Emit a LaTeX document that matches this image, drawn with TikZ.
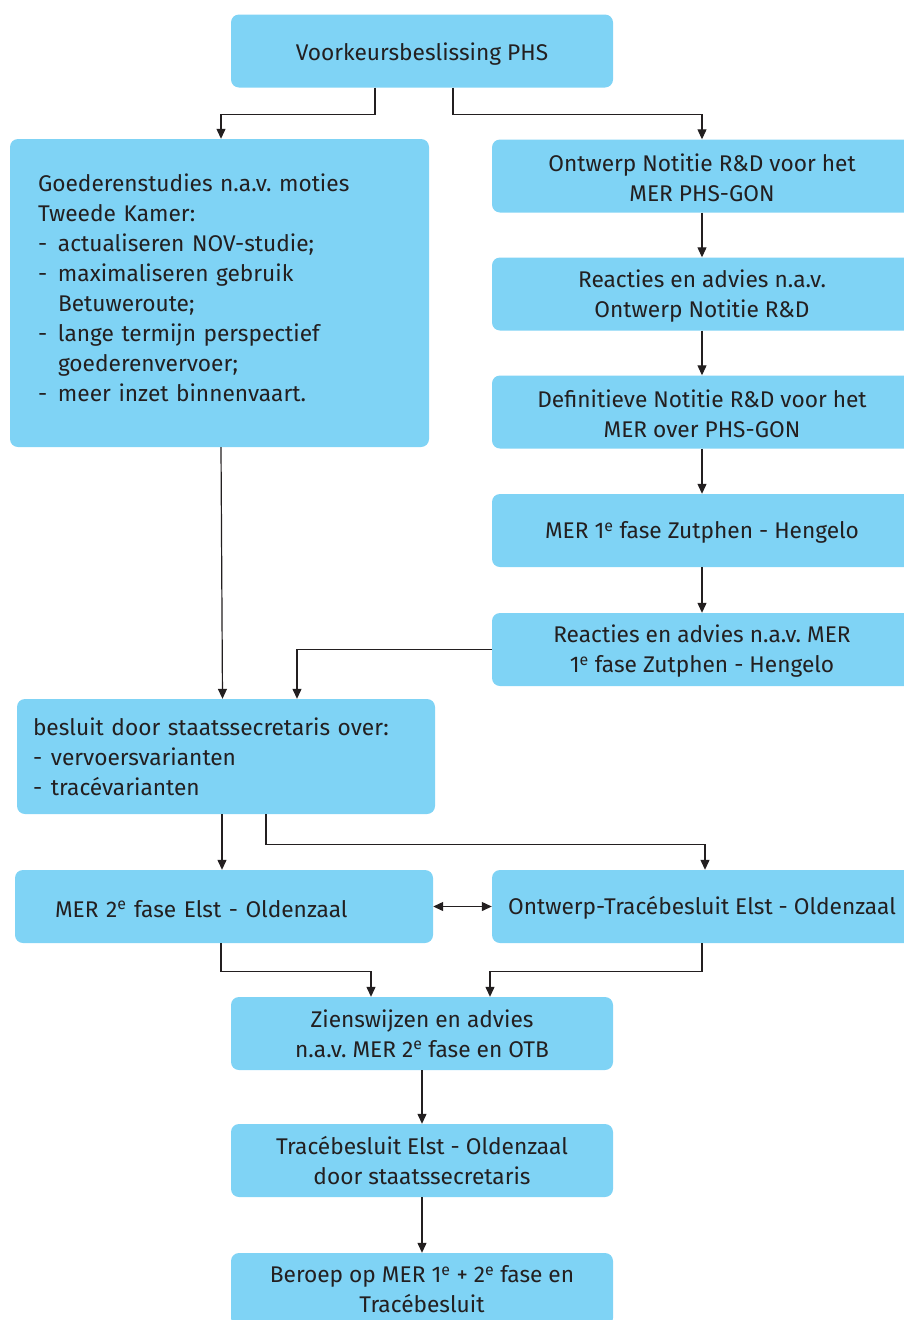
\documentclass[tikz,border=0pt]{standalone}
\usepackage{fontspec}
\setmainfont{Fira Sans}
\usetikzlibrary{arrows.meta}
\definecolor{boxblue}{RGB}{127,211,245}
\definecolor{linegrey}{RGB}{35,31,32}
\frenchspacing
\begin{document}
\begin{tikzpicture}[x=1pt,y=-1pt,font=\fontsize{22.7}{30}\selectfont,text=linegrey]
     \tikzstyle{boxnode}=[rectangle, rounded corners=8pt, fill=boxblue, inner sep=0pt,
       minimum width=382pt, minimum height=73pt, align=center]
     \tikzstyle{rightnode}=[boxnode, minimum width=420pt, text height=51pt]
     \tikzstyle{leftnode}=[boxnode, minimum width=418pt, align=left]
     \tikzstyle{oneline}=[text height=21.5pt]
     \tikzstyle{arrowline}=[draw=linegrey, line width=1.2pt, -{Triangle[width=9pt,length=10pt]}]
     \clip (0,0) rectangle (904,1320);
     \useasboundingbox (0,0) rectangle (904,1320);
     % top
     \node[boxnode, text height=23pt] (vkb) at (422,51) {Voorkeursbeslissing PHS};
     % left column
     \node[leftnode, minimum width=419pt, minimum height=308pt, text width=363pt, text depth=220pt] (goed) at (219.5,293)
       {Goederenstudies n.a.v. moties\\
        Tweede Kamer:\\
        \makebox[20pt][l]{-}actualiseren NOV-studie;\\
        \makebox[20pt][l]{-}maximaliseren gebruik\\
        \hspace*{20pt}Betuweroute;\\
        \makebox[20pt][l]{-}lange termijn perspectief\\
        \hspace*{20pt}goederenvervoer;\\
        \makebox[20pt][l]{-}meer inzet binnenvaart.};
     % right column
     \node[rightnode] (notitie) at (702,176) {Ontwerp Notitie R\&D voor het\\MER PHS-GON};
     \node[rightnode] (reactie) at (702,294) {Reacties en advies n.a.v.\\Ontwerp Notitie R\&D};
     \node[rightnode] (definitief) at (702,412) {Definitieve Notitie R\&D voor het\\MER over PHS-GON};
     \node[rightnode, oneline] (merfase1) at (702,530.5) {MER 1\textsuperscript{e} fase Zutphen - Hengelo};
     \node[rightnode] (advies1) at (702,649.5) {Reacties en advies n.a.v. MER\\1\textsuperscript{e} fase Zutphen - Hengelo};
     % besluit
     \node[leftnode, minimum height=115pt, text width=386pt] (besluit) at (226,756.5)
       {besluit door staatssecretaris over:\\
        \makebox[18pt][l]{-}vervoersvarianten\\
        \makebox[18pt][l]{-}tracévarianten};
     \node[leftnode, oneline, text width=338pt] (merfase2) at (224,906.5) {MER 2\textsuperscript{e} fase Elst - Oldenzaal};
     \node[rightnode, oneline] (otb) at (702,906.5) {Ontwerp-Tracébesluit Elst - Oldenzaal};
     % bottom
     \node[boxnode] (zienswijze) at (422,1033.5) {Zienswijzen en advies\\n.a.v. MER 2\textsuperscript{e} fase en OTB};
     \node[boxnode] (tracebesluit) at (422,1160.5) {Tracébesluit Elst - Oldenzaal\\door staatssecretaris};
     \node[boxnode] (beroep) at (422,1289.5) {Beroep op MER 1\textsuperscript{e} + 2\textsuperscript{e} fase en\\Tracébesluit};
     % connectors
     \draw[arrowline] ([xshift=-47pt]vkb.south) -- ++(0,27) -| ([xshift=1.5pt]goed.north);
     \draw[arrowline] ([xshift=31pt]vkb.south) -- ++(0,27) -| (notitie.north);
     \draw[arrowline] (notitie.south) -- (reactie.north);
     \draw[arrowline] (reactie.south) -- (definitief.north);
     \draw[arrowline] (definitief.south) -- (merfase1.north);
     \draw[arrowline] (merfase1.south) -- (advies1.north);
     \draw[arrowline] (advies1.west) -| ([xshift=71pt]besluit.north);
     \draw[arrowline] ([xshift=1.5pt]goed.south) -- ([xshift=-3.5pt]besluit.north);
     \draw[arrowline] ([xshift=-4pt]besluit.south) -- ([xshift=-2pt]merfase2.north);
     \draw[arrowline] ([xshift=40pt]besluit.south) -- ++(0,30) -| ([xshift=3pt]otb.north);
     \draw[arrowline, {Triangle[width=9pt,length=10pt]}-{Triangle[width=9pt,length=10pt]}] (merfase2.east) -- (otb.west);
     \draw[arrowline] ([xshift=-3pt]merfase2.south) -- ++(0,28) -| ([xshift=-51pt]zienswijze.north);
     \draw[arrowline] (otb.south) -- ++(0,28) -| ([xshift=68pt]zienswijze.north);
     \draw[arrowline] (zienswijze.south) -- (tracebesluit.north);
     \draw[arrowline] (tracebesluit.south) -- (beroep.north);
\end{tikzpicture}
\end{document}
